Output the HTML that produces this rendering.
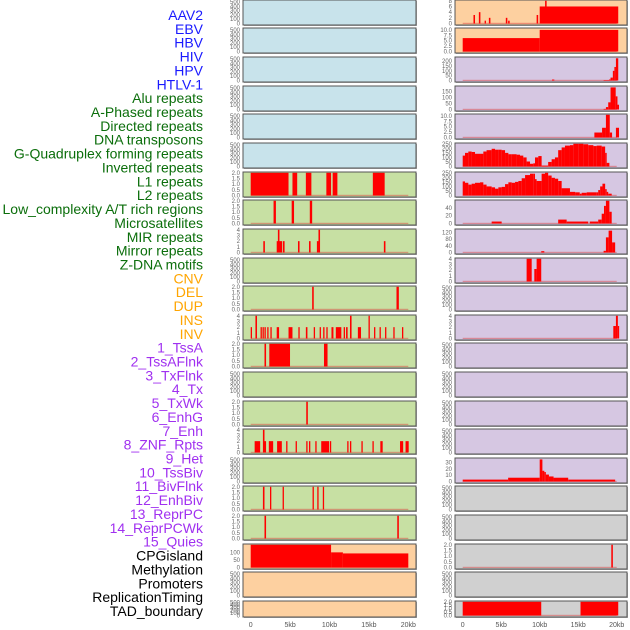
<!DOCTYPE html>
<html><head><meta charset="utf-8"><style>
body{margin:0;background:#fff;}
svg{display:block;font-family:"Liberation Sans",sans-serif;}
</style></head><body>
<svg id="chart" width="630" height="630" viewBox="0 0 630 630" xmlns="http://www.w3.org/2000/svg"></svg>
<script>
const rowLabels=["AAV2","EBV","HBV","HIV","HPV","HTLV-1","Alu repeats","A-Phased repeats","Directed repeats","DNA transposons","G-Quadruplex forming repeats","Inverted repeats","L1 repeats","L2 repeats","Low_complexity A/T rich regions","Microsatellites","MIR repeats","Mirror repeats","Z-DNA motifs","CNV","DEL","DUP","INS","INV","1_TssA","2_TssAFlnk","3_TxFlnk","4_Tx","5_TxWk","6_EnhG","7_Enh","8_ZNF_Rpts","9_Het","10_TssBiv","11_BivFlnk","12_EnhBiv","13_ReprPC","14_ReprPCWk","15_Quies","CPGisland","Methylation","Promoters","ReplicationTiming","TAD_boundary"];
const labelGroups=[6,13,5,15,5];
const groupColors=["#1a1aff","#0b6e0b","#ffa500","#a030f0","#000000"];
const xTickLabels=["0","5kb","10kb","15kb","20kb"];
const xTickKb=[0,5,10,15,20];
const E=[500,400,300,200,100,0];
const T2=["2.0","1.5","1.0","0.5","0.0"];
const T4=[4,3,2,1,0];
const T10=["10.0","7.5","5.0","2.5","0.0"];
// left column
const leftBg=["blue","blue","blue","blue","blue","blue","green","green","green","green","green","green","green","green","green","green","green","green","green","peach","peach","peach"];
const leftMax=[530,530,530,530,530,530,2,2,4,530,2,4,2,530,2,4,530,2,2,150,530,530];
const leftTicks=[E,E,E,E,E,E,T2,T2,T4,E,T2,T4,T2,E,T2,T4,E,T2,T2,[100,50,0],E,E];
const leftBars=[[],[],[],[],[],[],
[[0,4.8,2],[5.3,5.9,2],[7.0,7.7,2],[9.6,10.2,2],[10.4,11.0,2],[15.5,17.0,2]],
[[2.9,3.2,2],[5.2,5.5,2],[7.5,7.8,2]],
[[1.6,1.8,2],[3.3,4.0,2],[3.45,3.65,4],[4.1,4.3,2],[6.0,6.2,2],[7.4,7.6,2],[8.4,8.6,2],[8.6,8.8,4],[16.9,17.1,2]],
[],
[[7.8,8.0,2],[18.5,18.8,2]],
[[0,0.15,2],[0.6,0.8,4],[1.25,1.4,2],[1.5,1.65,2],[1.75,1.9,2],[2.1,2.25,2],[2.5,2.65,2],[3.3,3.6,2],[4.8,5.3,2],[6.05,6.2,2],[7.0,7.2,2],[8.0,8.15,2],[8.75,8.9,2],[9.2,9.35,2],[9.6,9.75,2],[10.25,10.5,2],[10.8,11.5,2],[11.8,11.95,2],[12.1,12.3,2],[12.6,12.8,4],[13.6,14.0,2],[14.95,15.1,4],[15.65,15.8,2],[16.35,16.5,2],[17.05,17.2,2],[18.1,18.25,2],[19.2,19.35,2]],
[[1.75,1.95,2],[2.36,4.99,2],[9.3,9.75,2]],
[],
[[7.05,7.25,2]],
[[0.5,1.2,2],[1.55,1.75,4],[1.75,1.95,2],[2.3,2.85,2],[3.35,3.95,2],[4.5,4.65,2],[5.7,5.85,2],[7.05,7.2,2],[7.4,7.55,2],[8.2,8.35,2],[8.95,9.95,2],[10.05,10.2,2],[12.25,12.4,2],[12.6,12.75,2],[14.05,14.2,2],[15.45,15.6,2],[16.45,16.75,2],[18.95,19.35,2],[19.65,20.05,2]],
[],
[[1.55,1.75,2],[2.45,2.6,2],[4.05,4.2,2],[7.85,8.0,2],[8.45,8.6,2],[9.15,9.3,2]],
[[1.75,1.95,2],[18.6,18.8,2]],
[[0,10.2,155],[10.2,11.7,100],[11.7,20.0,93]],
[],[]];
// right column
const rightBg=["peach","peach","lav","lav","lav","lav","lav","lav","lav","lav","lav","lav","lav","lav","lav","lav","lav","gray","gray","gray","gray","gray"];
const rightMax=[8,10.5,235,190,10.5,250,250,58,135,4,530,4,530,530,530,530,36,530,530,2,530,2];
const rightTicks=[[8,6,4,2,0],T10,[200,150,100,50,0],[150,100,50,0],T10,[250,200,150,100,50,0],[250,200,150,100,50,0],[40,20,0],[120,80,40,0],T4,E,T4,E,E,E,E,[30,20,10,0],E,E,T2,E,T2];
const rightBars=[
[[1.4,1.6,3],[2.1,2.3,4],[2.85,3.0,1],[3.4,3.6,2],[5.6,5.8,2],[5.9,6.1,1],[9.6,9.8,3],[10.0,20.2,6],[10.7,10.9,8]],
[[0,10.0,6.2],[10.0,20.2,10]],
[[11.6,11.9,10],[18.3,19.0,5],[19.0,19.2,10],[19.2,19.5,30],[19.5,19.7,100],[19.7,19.9,140],[19.9,20.2,230]],
[[18.3,18.6,5],[18.6,18.9,20],[18.9,19.2,60],[19.2,19.87,185],[19.87,20.1,110],[20.1,20.3,40]],
[[17.1,18.1,2.3],[18.1,18.6,4.5],[18.6,19.1,10.5],[19.1,19.4,2.3],[19.9,20.3,4.5]],
[],[],
[[3.76,5.06,5],[12.4,13.5,10],[13.5,16.3,5],[16.5,17.6,5],[17.6,18.05,10],[18.05,18.35,25],[18.35,18.6,45],[18.6,19.05,58],[19.05,19.35,30]],
[[10.2,10.6,8],[18.3,18.6,10],[18.6,18.95,90],[18.95,19.4,130],[19.4,19.8,60]],
[[8.3,8.96,4],[9.3,9.6,2.2],[9.6,10.2,4]],
[],
[[19.56,19.9,2.2],[19.9,20.15,4],[20.15,20.3,2.2]],
[],[],[],[],
[[0,5.9,3],[5.9,10.0,6],[10.0,10.35,35],[10.35,10.6,17],[10.6,10.8,15],[10.8,11.2,11],[11.2,11.8,8],[11.8,13.7,6],[13.7,19.8,3]],
[],[],
[[19.3,19.5,2]],
[],
[[0,10.2,2],[15.3,20.2,2]]];
const aluKb=[0,0.3,0.73,1.16,1.6,2.25,2.68,3.1,3.76,4.2,4.63,5.06,5.5,5.93,6.36,7.0,7.44,7.87,8.3,8.74,9.17,9.39,9.82,10.25,10.69,11.1,11.55,11.98,12.4,12.85,13.28,13.93,14.37,15.0,15.67,16.3,16.97,17.4,18.05,18.5,18.7,19.05];
const aluVal=[120,150,165,160,140,140,165,180,195,185,185,180,150,135,135,130,120,100,55,30,35,100,115,10,10,50,80,100,180,210,230,235,250,250,245,235,225,230,220,150,40];
const l1Kb=[0,0.3,0.73,1.16,1.6,2.25,2.68,3.1,3.76,4.2,4.63,5.06,5.5,5.93,6.36,6.8,7.23,7.66,8.1,8.74,9.17,9.39,9.6,10.25,10.69,11.1,11.55,11.98,12.4,12.85,13.93,14.6,15.2,15.45,16.1,17.4,17.6,17.85,18.15,18.5,18.7,18.9,19.35];
const l1Val=[155,140,120,130,140,145,120,100,90,75,90,95,125,145,140,150,160,190,225,240,240,180,160,240,250,220,195,185,160,80,40,35,20,30,35,35,60,100,130,70,40,20];

const svg=document.getElementById('chart');
const NS="http://www.w3.org/2000/svg";
function mk(tag,attrs,parent){const e=document.createElementNS(NS,tag);for(const k in attrs)e.setAttribute(k,attrs[k]);(parent||svg).appendChild(e);return e;}
const rowTops=[0,28,57,86,114,143,172,200,229,258,286,315,343,372,401,429,458,486,515,544,572,601];
const rowH=i=>i===21?16:25;
const colL={x0:243,x1:416,kx0:250.7,kx1:408.3};
const colR={x0:455,x1:627,kx0:462.7,kx1:616.7};
const bgColors={blue:"#c8e3eb",green:"#c7e0a3",peach:"#fdd0a0",lav:"#d6c7e2",gray:"#d0d0d0"};
function xScale(col,kb){return col.kx0+(col.kx1-col.kx0)*kb/20;}
function yScale(i,max,v){const t=rowTops[i]+0.8,b=rowTops[i]+rowH(i)-1.5;return b-(b-t)*Math.min(v,max)/max;}

// labels
let li=0;
labelGroups.forEach((n,g)=>{for(let k=0;k<n;k++){const y=15+li*13.86;
const t=mk('text',{x:203,y:y+5,'text-anchor':'end','font-size':'14',fill:groupColors[g]});


t.textContent=rowLabels[li];li++;}});

function drawPanel(col,i,bg,max,ticks,bars,side){
  const g=mk('g',{});
  
  
  const top=rowTops[i],h=rowH(i);
  mk('rect',{x:col.x0+1,y:top+1,width:col.x1-col.x0,height:h,fill:'#aaa'},g);
  mk('rect',{x:col.x0,y:top,width:col.x1-col.x0,height:h,fill:bgColors[bg],stroke:'#555','stroke-width':1},g);
  ticks.forEach(tv=>{const y=yScale(i,max,parseFloat(tv));
    const t=mk('text',{x:col.x0-3,y:y+2,'text-anchor':'end','font-size':'6',fill:'#666'},g);
    
    
    t.textContent=tv;});
  if(bars===null)return g;
  return g;
}
function drawBars(col,i,max,bars,g){
  if(!bars.length)return;
  mk('rect',{x:xScale(col,0),y:rowTops[i]+rowH(i)-2.2,width:xScale(col,20)-xScale(col,0),height:1.2,fill:'rgba(220,60,60,0.45)'},g);
  bars.forEach(b=>{const x0=xScale(col,b[0]),x1=Math.min(xScale(col,b[1]),col.x1-0.5);const y=yScale(i,max,b[2]);
    const r=mk('rect',{x:x0,y:y,width:Math.max(1.3,x1-x0),height:rowTops[i]+rowH(i)-1.5-y,fill:'#ff0000'},g);
    
    });
}
for(let i=0;i<22;i++){
  const gl=drawPanel(colL,i,leftBg[i],leftMax[i],leftTicks[i],leftBars[i],'left');
  drawBars(colL,i,leftMax[i],leftBars[i],gl);
  const gr=drawPanel(colR,i,rightBg[i],rightMax[i],rightTicks[i],rightBars[i],'right');
  let rb=rightBars[i];
  if(i===5){rb=aluVal.map((v,k)=>[aluKb[k],aluKb[k+1],v]);}
  if(i===6){rb=l1Val.map((v,k)=>[l1Kb[k],l1Kb[k+1],v]);}
  drawBars(colR,i,rightMax[i],rb,gr);
}
// x axes
[colL,colR].forEach((col,c)=>{xTickKb.forEach((kb,k)=>{
  const t=mk('text',{x:xScale(col,kb),y:627,'text-anchor':'middle','font-size':'7',fill:'#555'});
  
  
  t.textContent=xTickLabels[k];});});
</script>
</body></html>
